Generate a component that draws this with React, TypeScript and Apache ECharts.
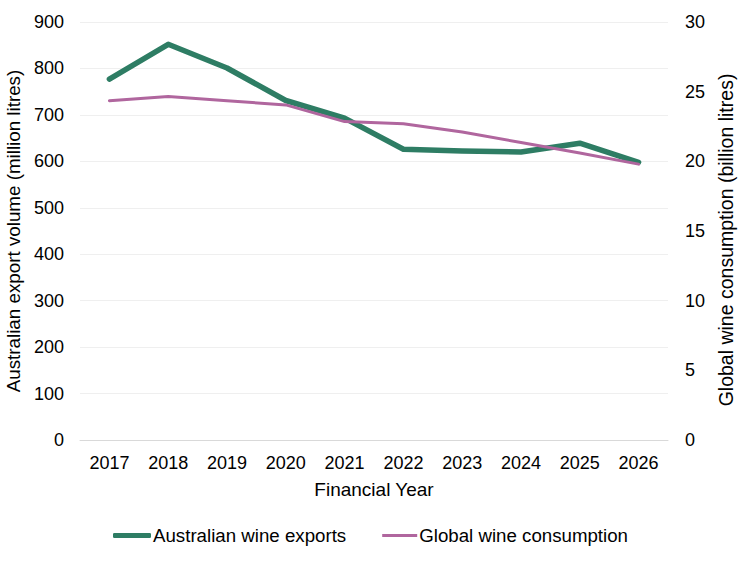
import React, { useEffect, useRef } from "react";
import * as echarts from "echarts";

const years = ["2017", "2018", "2019", "2020", "2021", "2022", "2023", "2024", "2025", "2026"];
const exportsVolume = [777, 852, 801, 731, 693, 626, 622, 620, 639, 598];
const globalConsumption = [24.35, 24.65, 24.35, 24.05, 22.85, 22.7, 22.1, 21.35, 20.6, 19.8];

const FONT = '"Liberation Sans", Arial, sans-serif';

export default function App() {
  const ref = useRef<HTMLDivElement>(null);
  useEffect(() => {
    if (!ref.current) return;
    const chart = echarts.init(ref.current, undefined, { renderer: "svg" });
    const txt = { color: "#000", fontSize: 18, fontFamily: FONT };
    chart.setOption({
      animation: false,
      textStyle: { fontFamily: FONT },
      grid: { left: 80, right: 83, top: 22, bottom: 123, outerBoundsMode: "none", containLabel: false },
      legend: {
        data: [
          { name: "Australian wine exports", icon: "roundRect" },
          {
            name: "Global wine consumption",
            icon: "path://M0,0 M38,5 M3,1 H38 V4 H3 Z",
          },
        ],
        top: 526,
        left: 113,
        padding: 0,
        itemWidth: 38,
        itemHeight: 5,
        itemGap: 33,
        textStyle: { ...txt, fontSize: 18.7, padding: [0, 0, 0, -3] },
      },
      xAxis: {
        type: "category",
        data: years,
        boundaryGap: true,
        axisTick: { show: false },
        axisLine: { lineStyle: { color: "#d9d9d9", width: 1 } },
        axisLabel: { ...txt, margin: 14 },
        name: "Financial Year",
        nameLocation: "middle",
        nameGap: 40,
        nameTextStyle: { ...txt, fontSize: 19 },
      },
      yAxis: [
        {
          type: "value",
          min: 0,
          max: 900,
          interval: 100,
          axisLine: { show: false },
          axisTick: { show: false },
          axisLabel: { ...txt, margin: 16 },
          splitLine: { lineStyle: { color: "#efefef", width: 1 } },
          name: "Australian export volume (million litres)",
          nameLocation: "middle",
          nameRotate: 90,
          nameGap: 57,
          nameTextStyle: { ...txt, fontSize: 18.8 },
        },
        {
          type: "value",
          min: 0,
          max: 30,
          interval: 5,
          position: "right",
          axisLine: { show: false },
          axisTick: { show: false },
          axisLabel: { ...txt, margin: 17 },
          splitLine: { show: false },
          name: "Global wine consumption (billion litres)",
          nameLocation: "middle",
          nameRotate: 90,
          nameGap: 48,
          nameTextStyle: { ...txt, fontSize: 19.5, padding: [0, 18, 0, 0] },
        },
      ],
      series: [
        {
          name: "Australian wine exports",
          type: "line",
          yAxisIndex: 0,
          data: exportsVolume,
          symbol: "none",
          color: "#2e7d64",
          lineStyle: { color: "#2e7d64", width: 5.5, cap: "round", join: "round" },
        },
        {
          name: "Global wine consumption",
          type: "line",
          yAxisIndex: 1,
          data: globalConsumption,
          symbol: "none",
          color: "#b0669e",
          lineStyle: { color: "#b0669e", width: 3, cap: "round", join: "round" },
        },
      ],
    });
    return () => chart.dispose();
  }, []);
  return (
    <div
      ref={ref}
      style={{ position: "fixed", left: 0, top: 0, width: 751, height: 563, background: "#fff" }}
    />
  );
}
